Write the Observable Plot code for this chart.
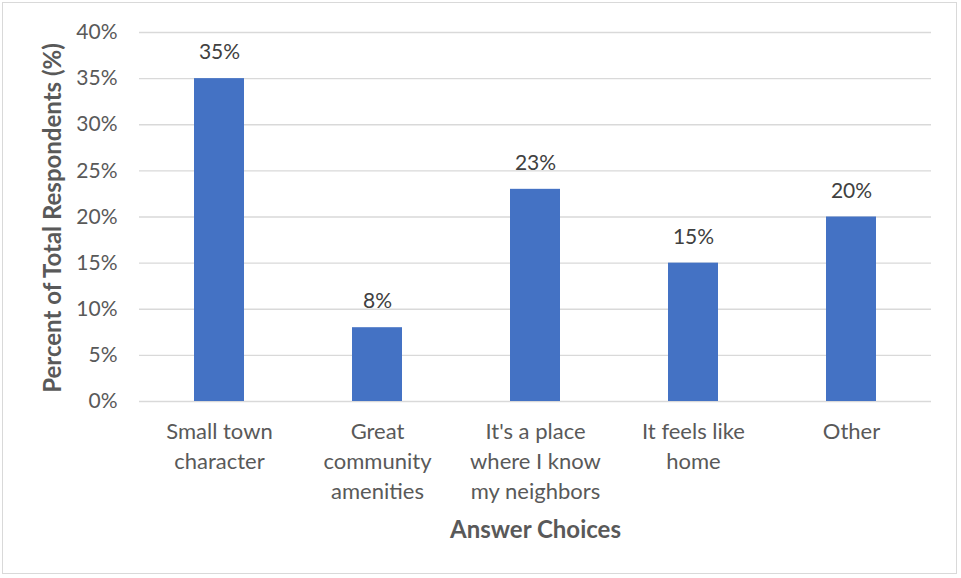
<!DOCTYPE html>
<html>
<head>
<meta charset="utf-8">
<script src="https://cdn.jsdelivr.net/npm/d3@7"></script>
<script src="https://cdn.jsdelivr.net/npm/@observablehq/plot@0.6"></script>
<style>
  html, body { margin: 0; padding: 0; background: #fff; }
  #wrap { position: relative; width: 961px; height: 578px; }
  #border { position: absolute; left: 2px; top: 2px; width: 955px; height: 572px; border: 1.5px solid #d9d9d9; box-sizing: border-box; pointer-events: none; }
  #chart { position: absolute; left: 0; top: 0; }
</style>
</head>
<body>
<div id="wrap"><div id="chart"></div><div id="border"></div></div>
<script>
const categories = ["Small town\ncharacter", "Great\ncommunity\namenities", "It's a place\nwhere I know\nmy neighbors", "It feels like\nhome", "Other"];
const values = [35, 8, 23, 15, 20];
const yTicks = [0, 5, 10, 15, 20, 25, 30, 35, 40];
const yTitle = "Percent of Total Respondents (%)";
const xTitle = "Answer Choices";

const data = categories.map((c, i) => ({category: c, value: values[i]}));
const font = "Lato, 'Open Sans', sans-serif";

const chart = Plot.plot({
  width: 961,
  height: 578,
  marginLeft: 139,
  marginRight: 30,
  marginTop: 32,
  marginBottom: 177,
  style: {fontFamily: font, color: "#595959", background: "transparent"},
  x: {domain: categories, paddingInner: 0.684, paddingOuter: 0.342, label: null},
  y: {domain: [0, 40], label: null},
  marks: [
    Plot.ruleY(yTicks, {stroke: "#d9d9d9", strokeWidth: 1.3}),
    Plot.barY(data, {x: "category", y: "value", fill: "#4472C4"}),
    Plot.text(data, {x: "category", y: "value", text: d => d.value + "%", dy: -26, fontSize: 21, fill: "#404040"}),
    Plot.axisY({ticks: yTicks, tickFormat: d => d + "%", tickSize: 0, tickPadding: 22, fontSize: 21, fill: "#595959", label: null}),
    Plot.axisX({tickSize: 0, tickPadding: 16, fontSize: 22, lineHeight: 1.36, fill: "#595959", label: null}),
    Plot.text([yTitle], {frameAnchor: "left", dx: -86, dy: 1, rotate: -90, textAnchor: "middle", lineAnchor: "middle", fontSize: 24, fontWeight: "bold", fill: "#595959", text: d => d}),
    Plot.text([xTitle], {frameAnchor: "bottom", dy: 129, lineAnchor: "middle", fontSize: 24, fontWeight: "bold", fill: "#595959", text: d => d})
  ]
});
document.getElementById("chart").append(chart);
</script>
</body>
</html>
